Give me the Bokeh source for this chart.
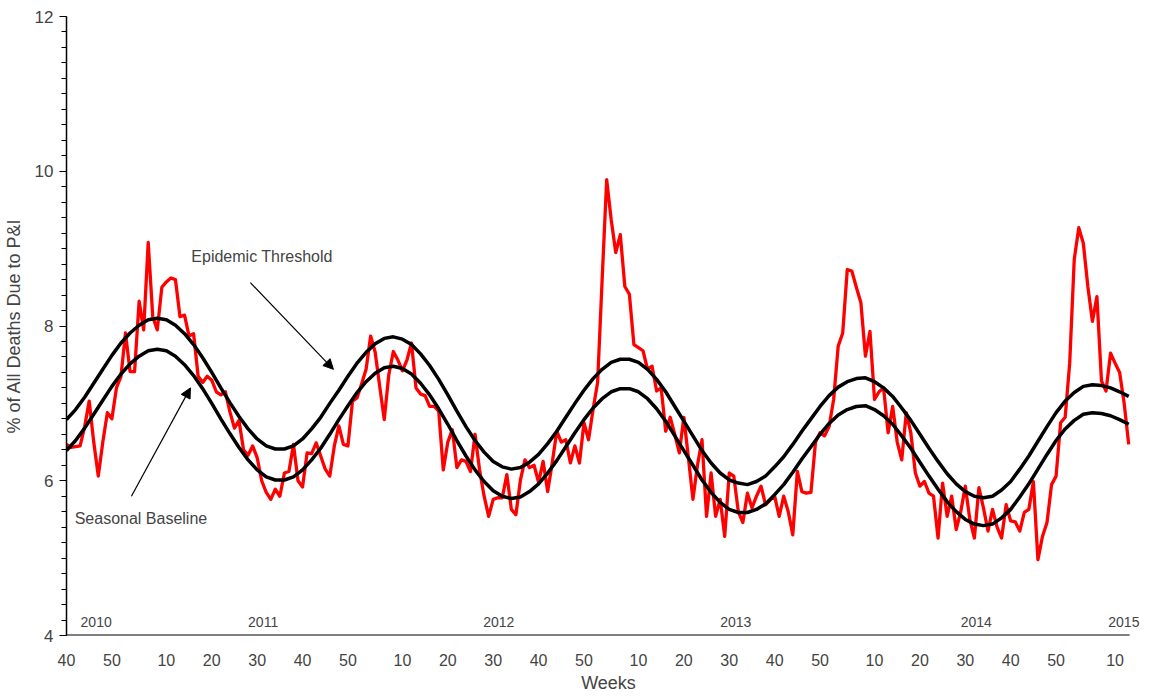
from bokeh.plotting import figure
from bokeh.models import FixedTicker, Arrow, NormalHead, Label
from bokeh.embed import file_html
from bokeh.resources import INLINE

FONT = "Liberation Sans"

# weekly P&I percentage, 2010 week 40 .. 2015 week 12 (index = weeks since start)
pi_pct = [
    6.47, 6.43, 6.44, 6.45, 6.70, 7.03, 6.50, 6.06, 6.50, 6.88,
    6.80, 7.20, 7.35, 7.91, 7.41, 7.41, 8.32, 7.95, 9.08, 8.12,
    7.95, 8.50, 8.57, 8.62, 8.60, 8.12, 8.14, 7.87, 7.90, 7.35,
    7.27, 7.35, 7.30, 7.15, 7.11, 7.15, 6.89, 6.68, 6.78, 6.40,
    6.33, 6.45, 6.30, 6.00, 5.85, 5.76, 5.89, 5.80, 6.10, 6.12,
    6.47, 6.00, 5.92, 6.36, 6.35, 6.49, 6.32, 6.15, 6.06, 6.45,
    6.71, 6.47, 6.45, 7.03, 7.07, 7.25, 7.44, 7.87, 7.66, 7.22,
    6.79, 7.37, 7.67, 7.56, 7.42, 7.56, 7.78, 7.20, 7.12, 7.10,
    6.96, 6.96, 6.90, 6.14, 6.50, 6.66, 6.17, 6.27, 6.25, 6.12,
    6.60, 6.14, 5.80, 5.54, 5.76, 5.78, 5.78, 6.08, 5.63, 5.56,
    6.01, 6.27, 6.17, 6.20, 5.98, 6.25, 5.86, 6.23, 6.64, 6.50,
    6.53, 6.23, 6.45, 6.23, 6.75, 6.53, 6.92, 7.27, 8.60, 9.89,
    9.37, 8.95, 9.18, 8.51, 8.41, 7.76, 7.72, 7.68, 7.44, 7.48,
    7.16, 7.20, 6.64, 6.82, 6.60, 6.36, 6.82, 6.30, 5.76, 6.20,
    6.53, 5.54, 6.10, 5.54, 5.76, 5.28, 6.10, 6.06, 5.60, 5.46,
    5.84, 5.65, 5.80, 5.93, 5.69, 5.75, 5.80, 5.54, 5.80, 5.60,
    5.30, 6.12, 5.86, 5.84, 5.85, 6.50, 6.62, 6.58, 6.70, 7.05,
    7.74, 7.91, 8.73, 8.71, 8.50, 8.30, 7.61, 7.93, 7.05, 7.15,
    7.20, 6.62, 6.96, 6.50, 6.27, 6.88, 6.62, 6.10, 5.93, 5.99,
    5.84, 5.80, 5.26, 5.97, 5.54, 5.80, 5.37, 5.60, 5.93, 5.50,
    5.26, 5.91, 5.65, 5.35, 5.63, 5.40, 5.26, 5.69, 5.48, 5.47,
    5.35, 5.59, 5.63, 5.99, 4.98, 5.28, 5.46, 5.95, 6.06, 6.75,
    6.82, 7.52, 8.86, 9.27, 9.07, 8.51, 8.06, 8.38, 7.29, 7.16,
    7.65, 7.52, 7.40, 7.00, 6.47,
]
weeks = list(range(len(pi_pct)))

# seasonal baseline and epidemic threshold, every second week
curve_weeks = list(range(0, 235, 2))
baseline = [
    6.39, 6.52, 6.68, 6.86, 7.04, 7.22, 7.38, 7.51, 7.61, 7.68,
    7.70, 7.68, 7.61, 7.50, 7.36, 7.19, 7.00, 6.80, 6.61, 6.43,
    6.27, 6.14, 6.05, 6.01, 6.01, 6.05, 6.14, 6.27, 6.42, 6.60,
    6.79, 6.97, 7.14, 7.28, 7.39, 7.46, 7.48, 7.45, 7.38, 7.26,
    7.11, 6.93, 6.73, 6.52, 6.32, 6.14, 5.99, 5.87, 5.80, 5.77,
    5.79, 5.86, 5.96, 6.10, 6.26, 6.44, 6.62, 6.79, 6.94, 7.06,
    7.15, 7.19, 7.19, 7.15, 7.06, 6.93, 6.77, 6.58, 6.39, 6.20,
    6.01, 5.85, 5.72, 5.63, 5.59, 5.59, 5.63, 5.70, 5.82, 5.95,
    6.11, 6.28, 6.44, 6.60, 6.74, 6.85, 6.92, 6.96, 6.97, 6.92,
    6.84, 6.73, 6.58, 6.42, 6.24, 6.06, 5.89, 5.73, 5.60, 5.50,
    5.44, 5.42, 5.44, 5.52, 5.63, 5.79, 5.96, 6.15, 6.34, 6.52,
    6.67, 6.78, 6.86, 6.88, 6.87, 6.84, 6.79, 6.73,
]
threshold = [
    6.79, 6.92, 7.08, 7.26, 7.44, 7.62, 7.78, 7.91, 8.01, 8.08,
    8.10, 8.08, 8.01, 7.90, 7.76, 7.59, 7.40, 7.20, 7.01, 6.83,
    6.67, 6.54, 6.45, 6.41, 6.41, 6.45, 6.54, 6.67, 6.82, 7.00,
    7.17, 7.35, 7.52, 7.66, 7.77, 7.84, 7.86, 7.83, 7.76, 7.64,
    7.49, 7.31, 7.11, 6.90, 6.70, 6.52, 6.37, 6.25, 6.18, 6.15,
    6.17, 6.24, 6.34, 6.48, 6.64, 6.82, 7.00, 7.17, 7.32, 7.44,
    7.53, 7.57, 7.57, 7.53, 7.44, 7.31, 7.15, 6.96, 6.77, 6.58,
    6.39, 6.23, 6.10, 6.01, 5.97, 5.95, 5.99, 6.06, 6.18, 6.31,
    6.47, 6.64, 6.80, 6.96, 7.10, 7.21, 7.28, 7.32, 7.33, 7.28,
    7.20, 7.09, 6.94, 6.78, 6.60, 6.42, 6.25, 6.09, 5.96, 5.86,
    5.80, 5.78, 5.80, 5.88, 5.99, 6.15, 6.32, 6.51, 6.70, 6.88,
    7.03, 7.14, 7.22, 7.24, 7.23, 7.20, 7.15, 7.09,
]

# x tick positions (weeks since start) and their week-number labels
tick_pos = [0, 10, 22, 32, 42, 52, 62, 74, 84, 94, 104, 114, 126, 136,
            146, 156, 166, 178, 188, 198, 208, 218, 231]
tick_labels = ["40", "50", "10", "20", "30", "40", "50", "10", "20", "30",
               "40", "50", "10", "20", "30", "40", "50", "10", "20", "30",
               "40", "50", "10"]
year_labels = ["2010", "2011", "2012", "2013", "2014", "2015"]
year_pos = [3.1, 40, 91.8, 144, 197, 229.5]
last_week = 234.2

# frame is a bit wider than the axis so that the "2015" label is not clipped
p = figure(width=1150, height=695, x_range=(0, 238.8), y_range=(4, 12),
           output_backend="svg", toolbar_location=None,
           min_border_left=66, min_border_right=0, min_border_top=16, min_border_bottom=52)
p.outline_line_color = None
p.grid.visible = False
p.background_fill_color = "white"

p.line(weeks, pi_pct, line_color="#ff0000", line_width=3.3, line_join="round")
p.line(curve_weeks, threshold, line_color="black", line_width=3.5)
p.line(curve_weeks, baseline, line_color="black", line_width=3.5)

# x axis line drawn only up to the last week
p.segment(x0=[0], y0=[4], x1=[last_week], y1=[4], line_color="black", line_width=2)

# axes
p.xaxis.ticker = FixedTicker(ticks=tick_pos)
p.xaxis.major_label_overrides = {t: l for t, l in zip(tick_pos, tick_labels)}
p.xaxis.major_tick_line_color = None
p.xaxis.minor_tick_line_color = None
p.xaxis.axis_line_color = None
p.xaxis.major_label_text_font = FONT
p.xaxis.major_label_text_font_size = "16px"
p.xaxis.major_label_standoff = 12
p.xaxis.axis_label = "Weeks"
p.xaxis.axis_label_text_font = FONT
p.xaxis.axis_label_text_font_style = "normal"
p.xaxis.axis_label_text_font_size = "18px"
p.xaxis.axis_label_standoff = 4

p.yaxis.ticker = FixedTicker(ticks=[4, 6, 8, 10, 12],
                             minor_ticks=[4 + 0.2 * k for k in range(41)])
p.yaxis.major_tick_out = 7
p.yaxis.major_tick_in = 0
p.yaxis.minor_tick_out = 5
p.yaxis.minor_tick_in = 0
p.yaxis.major_label_text_font = FONT
p.yaxis.major_label_text_font_size = "17px"
p.yaxis.major_label_standoff = 6
p.yaxis.axis_label = "% of All Deaths Due to P&I"
p.yaxis.axis_label_text_font = FONT
p.yaxis.axis_label_text_font_style = "normal"
p.yaxis.axis_label_text_font_size = "18px"
p.yaxis.axis_label_standoff = 8
p.yaxis.axis_line_width = 1.5

for txt, xp in zip(year_labels, year_pos):
    p.add_layout(Label(x=xp, y=4.18, text=txt, text_font=FONT,
                       text_font_size="14px", text_baseline="middle"))

p.add_layout(Label(x=27.5, y=8.9, text="Epidemic Threshold", text_font=FONT,
                   text_font_size="16px", text_baseline="middle"))
p.add_layout(Label(x=1.8, y=5.51, text="Seasonal Baseline", text_font=FONT,
                   text_font_size="16px", text_baseline="middle"))

p.add_layout(Arrow(x_start=40.5, y_start=8.56, x_end=58.8, y_end=7.44, line_width=1.2,
                   end=NormalHead(size=10, fill_color="black", line_color="black")))
p.add_layout(Arrow(x_start=14.3, y_start=5.80, x_end=27.3, y_end=7.20, line_width=1.2,
                   end=NormalHead(size=10, fill_color="black", line_color="black")))

open("out.html", "w").write(file_html(p, INLINE))
